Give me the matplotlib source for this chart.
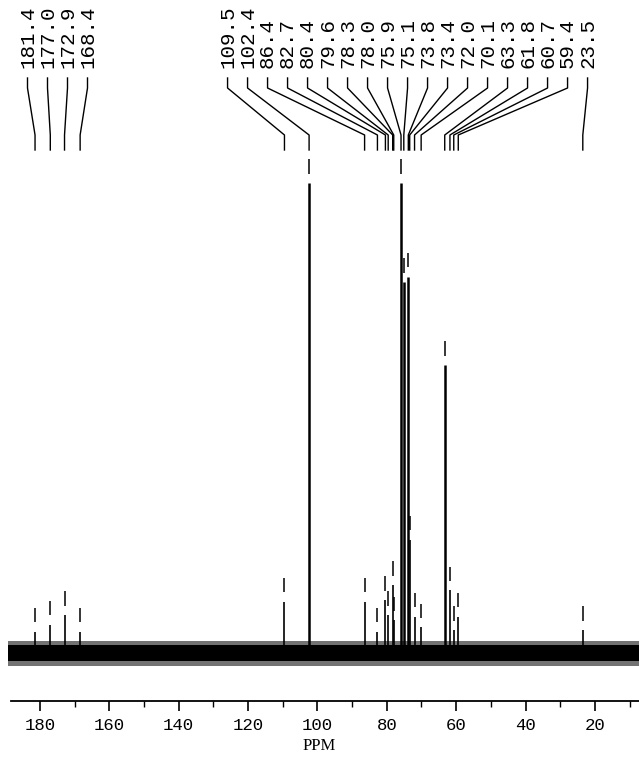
import numpy as np
import matplotlib
matplotlib.use("Agg")
import matplotlib.pyplot as plt
from matplotlib.transforms import blended_transform_factory

# peak positions (ppm) and heights (relative intensity, tallest = 100)
peaks = [181.4, 177.0, 172.9, 168.4,
         109.5, 102.4, 86.4, 82.7, 80.4, 79.6, 78.3, 78.0, 75.9, 75.1,
         73.8, 73.4, 72.0, 70.1, 63.3, 61.8, 60.7, 59.4, 23.5]
heights = [4.3, 5.8, 7.9, 4.3,
           10.7, 100, 10.7, 4.3, 11.1, 7.9, 14.3, 6.8, 100, 78.9,
           80.0, 23.9, 7.5, 5.3, 61.2, 13.2, 4.7, 7.5, 4.7]
labels = ["%.1f" % p for p in peaks]
n_left = 4  # carbonyl group labelled separately

W, H = 639, 763
fig = plt.figure(figsize=(W / 100, H / 100), dpi=100)
ax = fig.add_axes([0, 62 / H, 1, 701 / H])
xmin, xmax = 191.5, 7.3
ax.set_xlim(xmin, xmax)
ax.set_ylim(-10.45, 139.0)

# baseline noise band
xb = [189.3, xmax]
ax.fill_between(xb, -3.0, 2.4, color="0.45", linewidth=0)
ax.fill_between(xb, -2.0, 1.4, color="black", linewidth=0)

# peaks + peak-pick markers
pk = np.array(peaks)
ht = np.array(heights)
lw = np.where(ht > 50, 1.8, 1.2)
ax.vlines(pk, 0, ht, color="black", linewidth=lw)
ax.vlines(pk, ht + 2.0, ht + 5.0, color="black", linewidth=1.1)

# x axis
for s in ["top", "left", "right"]:
    ax.spines[s].set_visible(False)
ax.spines["bottom"].set_bounds(188.2, xmax)
ax.spines["bottom"].set_linewidth(1.3)
ax.set_yticks([])
ax.set_xticks(np.arange(20, 181, 20))
ax.set_xticks(np.arange(10, 181, 10), minor=True)
ax.tick_params(axis="x", which="major", direction="out", length=7, width=1.2, pad=5)
ax.tick_params(axis="x", which="minor", direction="out", length=4, width=1.0)
for t in ax.get_xticklabels():
    t.set_fontfamily("Liberation Mono")
    t.set_fontsize(12.5)
ax.set_xlabel("PPM", fontfamily="Liberation Serif", fontsize=12, labelpad=4)

# labels and leader lines
px_per_ppm = W / (xmin - xmax)
spacing = 20 / px_per_ppm
tr = blended_transform_factory(ax.transData, fig.transFigure)
groups = [(0, n_left), (n_left, len(peaks))]
for a, b in groups:
    grp = pk[a:b]
    c = grp.mean()
    n = b - a
    for i in range(n):
        xl = c + ((n - 1) / 2 - i) * spacing
        xp = grp[i]
        ys = [1 - y / H for y in (78, 88, 135, 150)]
        ax.plot([xl, xl, xp, xp], ys, color="black", linewidth=1.0,
                transform=tr, clip_on=False)
        ax.text(xl, 1 - 68 / H, labels[a + i], rotation=90, ha="center",
                va="bottom", transform=tr, fontfamily="Liberation Mono",
                fontsize=15)

fig.savefig("out.png", dpi=100)
